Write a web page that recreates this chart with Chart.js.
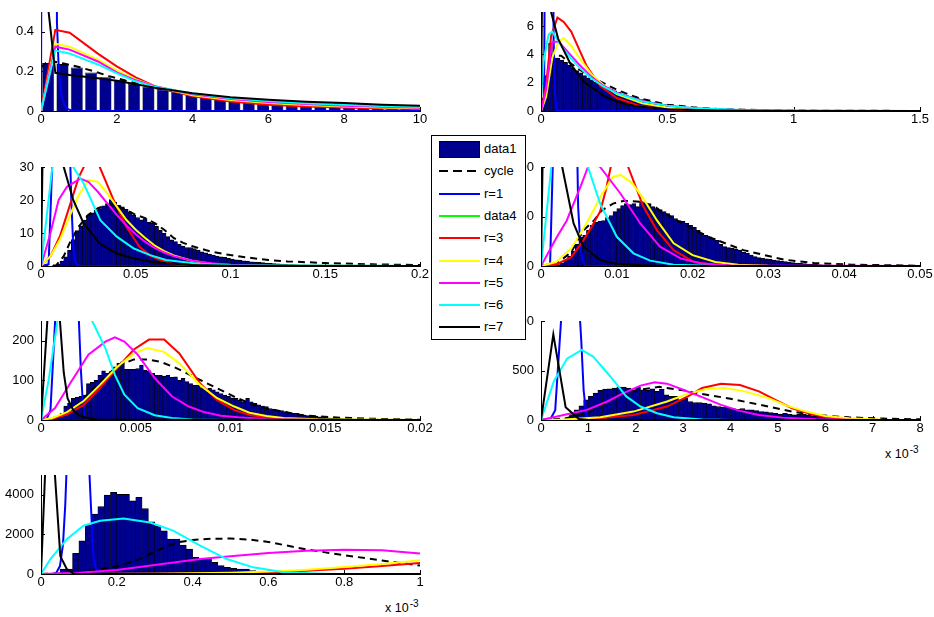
<!DOCTYPE html>
<html>
<head>
<meta charset="utf-8">
<script src="https://cdn.jsdelivr.net/npm/chart.js@4.4.1/dist/chart.umd.min.js"></script>
<style>
  html, body { margin: 0; padding: 0; background: #fff; }
  #stage { position: relative; width: 934px; height: 617px; overflow: hidden; background: #fff;
           font-family: "Liberation Sans", Arial, Helvetica, sans-serif; }
  #legend { position: absolute; left: 431px; top: 135px; width: 95px; height: 205px; box-sizing: border-box;
            border: 1px solid #000; background: #fff; z-index: 10; }
  .row { position: absolute; left: 0; height: 0; }
  .sw { position: absolute; }
  .lbl { position: absolute; left: 52px; font-size: 13px; line-height: 16px; top: -8px; color: #000; white-space: nowrap; }
  .expo { position: absolute; font-size: 12.5px; color: #000; white-space: nowrap; z-index: 5; line-height: 14px; }
  .expo sup { font-size: 10px; position: relative; top: -5px; vertical-align: baseline; line-height: 0; margin-left: 1px; }
</style>
</head>
<body>
<div id="stage"></div>
<script>
// ---------- histogram counts (bin heights) and bin widths ----------
const p1BinWidth = 0.378;
const p1Counts = [0.242,0.237,0.220,0.195,0.171,0.158,0.137,0.124,0.110,0.098,0.088,0.080,0.073,0.066,0.061,0.056,0.051,0.047,0.043,0.040,0.037,0.034,0.031,0.029,0.027,0.025,0.023];

const p2BinWidth = 0.015;
const p2Counts = [0.9,2.5,4.8,3.7,3.75,3.6,3.45,3.25,3.05,2.85,
  2.7,2.5,2.35,2.2,2.05,1.9,1.78,1.65,1.55,1.43,
  1.32,1.2,1.12,1.02,0.95,0.87,0.8,0.73,0.67,0.62,
  0.56,0.52,0.47,0.43,0.4,0.36,0.33,0.3,0.27,0.25,
  0.23,0.21,0.19,0.17,0.16,0.14,0.13,0.12,0.11,0.1,
  0.09,0.08,0.075,0.07,0.06,0.055,0.05,0.045,0.04,0.037,
  0.034,0.03,0.028,0.025,0.023,0.021,0.019,0.017,0.015,0.014];

const p3BinWidth = 0.002;
const p3Counts = [0,0,0,0.1,0.5,1.5,2.8,4.8,8,10.7,
  12.2,13.9,15.4,16.1,16.9,17.4,18.2,18.9,20.1,19.4,
  18.4,17.9,17.2,16.4,15.4,14.7,14.0,14.4,13.2,12.9,
  12.0,10.9,9.9,8.9,7.9,7.4,6.6,6.0,5.6,5.6,
  5.3,4.8,4.3,4.0,3.6,3.3,3.0,2.8,2.6,2.3,
  2.1,1.9,1.8,1.6,1.5,1.3,1.2,1.1,1.0,0.9,
  0.8,0.7,0.65,0.6,0.5,0.45,0.4,0.35,0.3,0.3,
  0.25,0.2,0.2,0.18,0.15,0.13,0.12,0.1,0.1,0.08];

const p4BinWidth = 0.0005;
const p4Counts = [0,0,0,0.5,1.5,3,6,10,15,22,
  29,31,36,41,44,45,46,49,51,55,
  58,61,63,62,63,60,65,64,63,60,
  58,57,55,53,51,48,46,45,43,41,
  39,36,33,31,29.5,28,26,22,19.5,18.5,
  17.8,17,16,14,12.8,11,9.4,8.5,7.7,7.2,
  6.7,6,5.4,5,4.4,4,3.4,3,2.7,2.4,
  2,1.8,1.6,1.5,1.3,1.2,1,0.9,0.8,0.7,
  0.6,0.55,0.5,0.45,0.4,0.35,0.3,0.3,0.25,0.2,
  0.2,0.15,0.15,0.1,0.1,0.1,0.1,0.05,0.05,0.05];

const p5BinWidth = 0.0002;
const p5Counts = [0,0,0,2,8,17,35,42,55,57,
  60,63,92,95,100,113,124,118,122,134,
  143,147,128,128,128,130,139,126,124,118,
  113,113,111,113,108,109,101,105,97,92,
  88,88,82,77,80,76,71,67,63,60,
  56,55,50,46,55,46,42,38,35,34,
  29,27,25,24,21,18.5,17,17,15,12.6,
  11,10,9,8,7,5.5,5,4.5,4,3.5,
  3,2.5,2.2,2,1.8,1.5,1.3,1.2,1,0.9,
  0.8,0.7,0.6,0.5,0.5,0.4,0.4,0.3,0.3,0.3];

// panels 6 and 7: x in units of 1e-3
const p6BinWidth = 0.1;
const p6Counts = [0,0,0,2,8,20,55,102,143,204,
  238,272,299,313,316,323,333,333,323,306,
  333,306,299,316,289,313,255,238,238,204,
  221,187,177,177,170,163,143,136,129,129,
  119,109,116,102,102,95,85,82,75,68,
  61,68,58,51,61,58,51,41,41,34,
  34,30,26,22,19,15,13,11,9,7,
  6,5,5,4,4,3,3,2,2,2];

const p7BinWidth = 1 / 60;
const p7Counts = [0,0,30,250,250,1040,1680,2470,3025,3410,
  3980,4120,4030,4030,3700,3870,3310,2640,2440,2180,
  1760,1760,1460,1260,840,756,756,590,420,336,
  286,252,252,168,118,80,60,40,30,20,
  15,10,10,5,5,5,0,0,0,0];

// ---------- fitted curves, [x, y] pairs ----------
const data4Curve = [];

const p1Cycle = [[0,0.22],[0.2,0.255],[0.6,0.24],[1,0.222],[1.4,0.2],[1.8,0.176],[2.2,0.155],[2.6,0.135],[3,0.116],[4,0.084],[5,0.064],[6,0.05],[7,0.04],[8,0.032],[9,0.026],[10,0.021]];
const p1R1 = [[0,0],[0.378,30],[0.42,0.45],[0.46,0.25],[0.5,0.14],[0.55,0.07],[0.62,0.03],[0.7,0.01],[0.8,0.003],[1,0],[10,0]];
const p1R3 = [[0,0],[0.378,0.41],[0.756,0.395],[1.5,0.29],[2,0.225],[2.5,0.17],[3,0.125],[4,0.075],[5,0.048],[6,0.032],[7,0.023],[8,0.018],[9,0.013],[10,0.01]];
const p1R4 = [[0,0],[0.378,0.34],[0.756,0.325],[1.5,0.26],[2,0.205],[2.5,0.16],[3,0.125],[4,0.08],[5,0.055],[6,0.04],[7,0.03],[8,0.023],[9,0.018],[10,0.014]];
const p1R5 = [[0,0],[0.378,0.325],[0.756,0.31],[1.5,0.25],[2,0.195],[2.5,0.155],[3,0.125],[4,0.085],[5,0.06],[6,0.045],[7,0.035],[8,0.027],[9,0.021],[10,0.017]];
const p1R6 = [[0,0],[0.378,0.305],[0.756,0.29],[1.5,0.235],[2,0.19],[2.5,0.15],[3,0.122],[4,0.088],[5,0.065],[6,0.05],[7,0.039],[8,0.031],[9,0.025],[10,0.02]];
const p1R7 = [[0,0.85],[0.378,0.193],[0.756,0.182],[1.5,0.165],[2,0.153],[2.5,0.135],[3,0.118],[4,0.09],[5,0.07],[6,0.057],[7,0.047],[8,0.04],[9,0.032],[10,0.026]];

const p2Cycle = [[0,0],[0.02,1.5],[0.04,3],[0.06,3.9],[0.08,3.9],[0.1,3.6],[0.15,2.95],[0.2,2.42],[0.25,1.95],[0.3,1.5],[0.35,1.15],[0.4,0.85],[0.5,0.45],[0.6,0.26],[0.7,0.15],[0.8,0.09],[0.9,0.06],[1.0,0.035],[1.2,0.015],[1.5,0.005]];
const p2R1 = [[0,0],[0.012,0.5],[0.018,20],[0.045,20],[0.05,5],[0.055,1.5],[0.06,0.3],[0.065,0],[1.5,0]];
const p2R3 = [[0,0],[0.02,1.8],[0.04,5.3],[0.065,6.6],[0.09,6.3],[0.12,5.6],[0.155,4.2],[0.18,3.2],[0.235,1.76],[0.3,0.92],[0.39,0.36],[0.5,0.12],[0.6,0.03],[0.8,0],[1.5,0]];
const p2R4 = [[0,0],[0.02,1.0],[0.045,3.8],[0.07,4.9],[0.09,5.15],[0.12,4.6],[0.15,3.8],[0.2,2.6],[0.25,1.8],[0.3,1.2],[0.4,0.55],[0.5,0.25],[0.6,0.12],[0.8,0.03],[1.0,0.01],[1.5,0]];
const p2R5 = [[0,0],[0.02,1.5],[0.045,4.9],[0.07,4.9],[0.1,4.3],[0.15,3.3],[0.2,2.4],[0.25,1.75],[0.3,1.3],[0.4,0.7],[0.5,0.38],[0.6,0.2],[0.8,0.06],[1.0,0.02],[1.5,0]];
const p2R6 = [[0,0.9],[0.01,3.5],[0.03,5.4],[0.045,5.6],[0.07,4.9],[0.1,4.1],[0.15,3.1],[0.2,2.3],[0.25,1.7],[0.3,1.25],[0.4,0.68],[0.5,0.38],[0.6,0.21],[0.8,0.07],[1.0,0.025],[1.5,0.003]];
const p2R7 = [[0,0],[0.005,10],[0.02,9],[0.04,7],[0.068,5.1],[0.12,3.2],[0.174,2.0],[0.25,1.05],[0.3,0.67],[0.37,0.36],[0.5,0.12],[0.7,0.03],[1.0,0.005],[1.5,0]];

const p3Cycle = [[0,0],[0.008,0.2],[0.012,3],[0.016,8],[0.02,12],[0.025,15.5],[0.03,17.5],[0.035,18.5],[0.04,18.3],[0.045,17],[0.05,15.5],[0.055,14.5],[0.06,13],[0.065,11],[0.07,8.5],[0.075,7],[0.08,6],[0.09,4.3],[0.1,3.3],[0.11,2.5],[0.12,1.8],[0.13,1.4],[0.15,0.9],[0.175,0.5],[0.2,0.3]];
const p3R1 = [[0,0],[0.004,0.5],[0.0065,40],[0.015,40],[0.016,20],[0.017,6],[0.018,1.5],[0.019,0.3],[0.021,0],[0.2,0]];
const p3R3 = [[0,0],[0.005,3],[0.01,9],[0.015,18],[0.02,27],[0.026,34],[0.031,30],[0.038,20.4],[0.045,11.9],[0.052,5.8],[0.058,3],[0.063,1.8],[0.07,0.6],[0.08,0.1],[0.1,0],[0.2,0]];
const p3R4 = [[0,0],[0.005,3],[0.01,8],[0.015,15],[0.02,21.5],[0.025,26],[0.03,25.5],[0.035,22],[0.04,18],[0.045,14],[0.05,11],[0.055,8.5],[0.06,6.2],[0.065,4.5],[0.07,3.2],[0.08,1.5],[0.09,0.7],[0.1,0.3],[0.12,0.05],[0.2,0]];
const p3R5 = [[0,0],[0.005,10],[0.0093,20],[0.0137,24],[0.0207,26.5],[0.025,25.5],[0.03,22.5],[0.035,19],[0.04,15.5],[0.045,12.3],[0.05,9.6],[0.055,7.3],[0.06,5.5],[0.065,4.1],[0.07,3.0],[0.08,1.6],[0.09,0.8],[0.1,0.4],[0.12,0.1],[0.2,0]];
const p3R6 = [[0,0],[0.006,30],[0.009,40],[0.013,38],[0.017,30],[0.0225,25],[0.0313,13.9],[0.04,8.9],[0.049,5.3],[0.0576,3.3],[0.066,1.8],[0.084,0.6],[0.1,0.2],[0.2,0]];
const p3R7 = [[0,0],[0.0015,60],[0.008,45],[0.012,30],[0.017,20],[0.0225,12.9],[0.031,6.8],[0.04,3.8],[0.049,2.3],[0.058,1.3],[0.066,0.8],[0.08,0.3],[0.1,0.1],[0.2,0]];

const p4Cycle = [[0,0],[0.002,2],[0.004,14],[0.0056,36],[0.007,46],[0.008,56],[0.0095,63],[0.011,66],[0.013,65],[0.015,60],[0.0157,56],[0.0184,44],[0.0219,30],[0.0267,16],[0.032,6.5],[0.036,3],[0.041,1.3],[0.05,0.3]];
const p4R1 = [[0,0],[0.0012,2],[0.0019,200],[0.0046,200],[0.0049,60],[0.0052,20],[0.0055,5],[0.0058,0],[0.05,0]];
const p4R3 = [[0,0],[0.002,1.5],[0.004,9],[0.0056,26],[0.0067,40],[0.0078,55],[0.0086,78],[0.0092,100],[0.0103,118],[0.0115,100],[0.0135,60],[0.0153,36],[0.0175,16],[0.0201,4.4],[0.0228,1],[0.026,0.2],[0.05,0]];
const p4R4 = [[0,0],[0.002,4],[0.004,18],[0.006,43],[0.008,72],[0.0095,90],[0.0105,92],[0.012,84],[0.0135,68],[0.0153,46],[0.0175,23],[0.02,11],[0.023,4],[0.026,1.2],[0.03,0.2],[0.05,0]];
const p4R5 = [[0,0],[0.002,28],[0.0034,46],[0.0052,80],[0.0062,100],[0.007,104],[0.0078,100],[0.0105,73],[0.0131,43],[0.0157,19.5],[0.0184,7.7],[0.021,2.7],[0.025,0.6],[0.05,0]];
const p4R6 = [[0,0],[0.0015,110],[0.004,150],[0.0062,100],[0.0078,63],[0.01,29.5],[0.0122,12.8],[0.0144,5.4],[0.0175,1.3],[0.022,0.2],[0.05,0]];
const p4R7 = [[0,0],[0.0006,300],[0.0028,100],[0.0043,43],[0.0056,19.5],[0.0078,6],[0.01,2],[0.015,0.3],[0.05,0]];

const p5Cycle = [[0,0],[0.001,8],[0.002,42],[0.003,92],[0.004,135],[0.0049,153],[0.0056,153],[0.0063,147],[0.007,134],[0.0077,118],[0.0084,101],[0.0093,80],[0.0102,59],[0.011,42],[0.0119,29],[0.0128,21],[0.0137,12.6],[0.0154,6.7],[0.0172,3.4],[0.02,0.8]];
const p5R1 = [[0,0],[0.0003,2],[0.0005,25],[0.0008,300],[0.00195,300],[0.002,250],[0.0021,130],[0.0022,50],[0.0023,12],[0.0024,2],[0.0026,0],[0.02,0]];
const p5R3 = [[0,0],[0.0006,3],[0.00137,14],[0.00225,38],[0.0031,80],[0.004,130],[0.0049,178],[0.0057,203],[0.0065,203],[0.0073,168],[0.0084,92],[0.0093,50],[0.0102,25],[0.011,12.6],[0.0119,6],[0.0128,2.5],[0.0146,0.3],[0.02,0]];
const p5R4 = [[0,0],[0.0006,5],[0.00137,20],[0.00225,48],[0.0031,88],[0.004,133],[0.0049,168],[0.0056,182],[0.0065,172],[0.0073,143],[0.0084,88],[0.0093,55],[0.0102,34],[0.011,18.5],[0.0119,10],[0.0128,5],[0.0146,1.7],[0.02,0]];
const p5R5 = [[0,0],[0.00074,30],[0.0016,97],[0.0025,165],[0.0034,198],[0.0039,209],[0.0044,198],[0.0051,165],[0.006,106],[0.0069,60],[0.0078,34],[0.0086,20],[0.0095,11],[0.0104,6.7],[0.012,2],[0.015,0.3],[0.02,0]];
const p5R6 = [[0,0],[0.0004,100],[0.0009,260],[0.0015,340],[0.0027,250],[0.0034,181],[0.0039,114],[0.0044,64],[0.0051,30],[0.006,12],[0.0069,5],[0.008,1.5],[0.01,0.3],[0.02,0]];
const p5R7 = [[0,0],[0.0004,300],[0.0008,350],[0.001,250],[0.0012,120],[0.0014,55],[0.0017,25],[0.002,12],[0.0025,4],[0.003,1],[0.02,0]];

const p6Cycle = [[0,0],[0.5,15],[1.0,80],[1.3,150],[1.6,238],[2.0,300],[2.5,335],[3.0,300],[3.5,255],[4.0,215],[4.8,136],[5.3,85],[5.8,51],[6.5,27],[7.2,14],[8.0,7]];
const p6R1 = [[0,0],[0.2,10],[0.3,100],[0.45,1200],[0.8,1200],[0.85,800],[0.9,300],[0.95,80],[1.0,15],[1.1,0],[8,0]];
const p6R3 = [[0,0],[0.5,3],[1.25,17],[1.95,51],[2.66,136],[3.1,238],[3.4,323],[3.8,367],[4.2,354],[4.6,289],[5.0,190],[5.3,119],[5.7,61],[6.0,27],[6.5,10],[7.2,0],[8,0]];
const p6R4 = [[0,0],[0.5,5],[1.25,27],[1.95,85],[2.66,187],[3.1,265],[3.5,313],[3.9,323],[4.3,289],[4.8,221],[5.2,143],[5.6,85],[6.0,41],[6.5,17],[7.2,3],[8,0]];
const p6R5 = [[0,0],[0.55,58],[0.97,102],[1.4,187],[1.74,272],[2.1,347],[2.4,381],[2.66,367],[3.0,306],[3.4,231],[3.8,153],[4.2,92],[4.6,51],[5.1,24],[5.8,7],[6.8,0],[8,0]];
const p6R6 = [[0,0],[0.27,390],[0.55,620],[0.86,708],[1.1,640],[1.46,442],[1.8,238],[2.1,136],[2.45,68],[2.8,27],[3.4,5],[4.0,0],[8,0]];
const p6R7 = [[0,0],[0.26,865],[0.52,130],[0.8,10],[1.0,0],[8,0]];

const p7Cycle = [[0,0],[0.1,50],[0.2,380],[0.26,750],[0.314,1250],[0.36,1600],[0.4,1720],[0.45,1780],[0.5,1790],[0.55,1740],[0.6,1620],[0.7,1240],[0.8,950],[0.9,680],[1.0,430]];
const p7R1 = [[0,0],[0.03,0],[0.04,50],[0.05,400],[0.058,1500],[0.064,3500],[0.068,5500],[0.07,6500],[0.125,6500],[0.128,5000],[0.134,2500],[0.139,756],[0.147,168],[0.155,20],[0.17,0],[1,0]];
const p7R3 = [[0,0],[0.3,10],[0.5,40],[0.6,80],[0.7,160],[0.8,260],[0.9,400],[1.0,555]];
const p7R4 = [[0,0],[0.3,15],[0.5,60],[0.6,120],[0.7,220],[0.8,350],[0.9,510],[1.0,700]];
const p7R5 = [[0,0],[0.1,60],[0.2,200],[0.3,450],[0.42,756],[0.5,900],[0.6,1060],[0.7,1180],[0.8,1230],[0.9,1200],[1.0,1040]];
const p7R6 = [[0,0],[0.025,756],[0.068,1760],[0.112,2440],[0.156,2690],[0.218,2800],[0.288,2600],[0.35,2180],[0.42,1430],[0.49,756],[0.56,336],[0.64,84],[0.77,0],[1,0]];
const p7R7 = [[0,0],[0.017,8000],[0.034,5800],[0.051,900],[0.068,250],[0.085,30],[0.1,0],[1,0]];

// ---------- axis limits and tick labels ----------
const p1XTicks = [0,2,4,6,8,10],            p1XLabels = ['0','2','4','6','8','10'];
const p1YTicks = [0,0.2,0.4],               p1YLabels = ['0','0.2','0.4'];
const p2XTicks = [0,0.5,1,1.5],             p2XLabels = ['0','0.5','1','1.5'];
const p2YTicks = [0,2,4,6],                 p2YLabels = ['0','2','4','6'];
const p3XTicks = [0,0.05,0.1,0.15,0.2],     p3XLabels = ['0','0.05','0.1','0.15','0.2'];
const p3YTicks = [0,10,20,30],              p3YLabels = ['0','10','20','30'];
const p4XTicks = [0,0.01,0.02,0.03,0.04,0.05], p4XLabels = ['0','0.01','0.02','0.03','0.04','0.05'];
const p4YTicks = [0,50,100],                p4YLabels = ['0','50','100'];
const p5XTicks = [0,0.005,0.01,0.015,0.02], p5XLabels = ['0','0.005','0.01','0.015','0.02'];
const p5YTicks = [0,100,200],               p5YLabels = ['0','100','200'];
const p6XTicks = [0,1,2,3,4,5,6,7,8],       p6XLabels = ['0','1','2','3','4','5','6','7','8'];
const p6YTicks = [0,500,1000],              p6YLabels = ['0','500','1000'];
const p7XTicks = [0,0.2,0.4,0.6,0.8,1],     p7XLabels = ['0','0.2','0.4','0.6','0.8','1'];
const p7YTicks = [0,2000,4000],             p7YLabels = ['0','2000','4000'];

const PANELS = [
  { counts: p1Counts, binWidth: p1BinWidth, xMax: 10,   yMax: 0.5,  xTicks: p1XTicks, xLabels: p1XLabels, yTicks: p1YTicks, yLabels: p1YLabels,
    curves: { cycle: p1Cycle, r1: p1R1, data4: data4Curve, r3: p1R3, r4: p1R4, r5: p1R5, r6: p1R6, r7: p1R7 } },
  { counts: p2Counts, binWidth: p2BinWidth, xMax: 1.5,  yMax: 7,    xTicks: p2XTicks, xLabels: p2XLabels, yTicks: p2YTicks, yLabels: p2YLabels,
    curves: { cycle: p2Cycle, r1: p2R1, data4: data4Curve, r3: p2R3, r4: p2R4, r5: p2R5, r6: p2R6, r7: p2R7 } },
  { counts: p3Counts, binWidth: p3BinWidth, xMax: 0.2,  yMax: 30,   xTicks: p3XTicks, xLabels: p3XLabels, yTicks: p3YTicks, yLabels: p3YLabels,
    curves: { cycle: p3Cycle, r1: p3R1, data4: data4Curve, r3: p3R3, r4: p3R4, r5: p3R5, r6: p3R6, r7: p3R7 } },
  { counts: p4Counts, binWidth: p4BinWidth, xMax: 0.05, yMax: 100,  xTicks: p4XTicks, xLabels: p4XLabels, yTicks: p4YTicks, yLabels: p4YLabels,
    curves: { cycle: p4Cycle, r1: p4R1, data4: data4Curve, r3: p4R3, r4: p4R4, r5: p4R5, r6: p4R6, r7: p4R7 } },
  { counts: p5Counts, binWidth: p5BinWidth, xMax: 0.02, yMax: 250,  xTicks: p5XTicks, xLabels: p5XLabels, yTicks: p5YTicks, yLabels: p5YLabels,
    curves: { cycle: p5Cycle, r1: p5R1, data4: data4Curve, r3: p5R3, r4: p5R4, r5: p5R5, r6: p5R6, r7: p5R7 } },
  { counts: p6Counts, binWidth: p6BinWidth, xMax: 8,    yMax: 1000, xTicks: p6XTicks, xLabels: p6XLabels, yTicks: p6YTicks, yLabels: p6YLabels,
    curves: { cycle: p6Cycle, r1: p6R1, data4: data4Curve, r3: p6R3, r4: p6R4, r5: p6R5, r6: p6R6, r7: p6R7 } },
  { counts: p7Counts, binWidth: p7BinWidth, xMax: 1,    yMax: 5000, xTicks: p7XTicks, xLabels: p7XLabels, yTicks: p7YTicks, yLabels: p7YLabels,
    curves: { cycle: p7Cycle, r1: p7R1, data4: data4Curve, r3: p7R3, r4: p7R4, r5: p7R5, r6: p7R6, r7: p7R7 } }
];

// ---------- styling and layout ----------
const FONT = '"Liberation Sans", Arial, Helvetica, sans-serif';
const BAR_FILL = '#00008F';
const SERIES = [
  { key: 'cycle', label: 'cycle', color: '#000000', dash: [7, 5] },
  { key: 'r1',    label: 'r=1',   color: '#0000FF' },
  { key: 'data4', label: 'data4', color: '#00FF00' },
  { key: 'r3',    label: 'r=3',   color: '#FF0000' },
  { key: 'r4',    label: 'r=4',   color: '#FFFF00' },
  { key: 'r5',    label: 'r=5',   color: '#FF00FF' },
  { key: 'r6',    label: 'r=6',   color: '#00FFFF' },
  { key: 'r7',    label: 'r=7',   color: '#000000' }
];
// plot-area top-left corners; every plot area is AREA_W x AREA_H
const PANEL_POS = [
  { left: 41,  top: 12 },  { left: 541, top: 12 },
  { left: 41,  top: 167 }, { left: 541, top: 167 },
  { left: 41,  top: 321 }, { left: 541, top: 321 },
  { left: 41,  top: 475 }
];
const BAR_FRACTION = [0.84, 1, 1, 1, 1, 1, 1];
const AREA_W = 379, AREA_H = 99;
const PAD_L = 40, PAD_T = 8, PAD_R = 16, PAD_B = 22;

// short tick marks pointing into the plot area
const inwardTicks = {
  id: 'inwardTicks',
  beforeDatasetsDraw(chart) {
    const { ctx, chartArea: a, scales: { x, y } } = chart;
    ctx.save();
    ctx.strokeStyle = '#000';
    ctx.lineWidth = 1;
    ctx.beginPath();
    x.ticks.forEach(t => {
      const px = Math.round(x.getPixelForValue(t.value)) + 0.5;
      ctx.moveTo(px, a.bottom); ctx.lineTo(px, a.bottom - 4);
    });
    y.ticks.forEach(t => {
      const py = Math.round(y.getPixelForValue(t.value)) + 0.5;
      ctx.moveTo(a.left, py); ctx.lineTo(a.left + 4, py);
    });
    ctx.stroke();
    ctx.restore();
  }
};

const stage = document.getElementById('stage');

PANELS.forEach((p, k) => {
  const pos = PANEL_POS[k];
  const w = PAD_L + AREA_W + PAD_R, h = PAD_T + AREA_H + PAD_B;
  const cv = document.createElement('canvas');
  cv.width = w; cv.height = h;
  cv.style.cssText = `position:absolute;left:${pos.left - PAD_L}px;top:${pos.top - PAD_T}px;width:${w}px;height:${h}px;`;
  stage.appendChild(cv);

  const bars = p.counts.map((c, i) => ({ x: (i + 0.5) * p.binWidth, y: c }));
  const datasets = [{
    type: 'bar', label: 'data1', data: bars, order: 100,
    backgroundColor: BAR_FILL, borderColor: '#000',
    borderWidth: { top: 1, left: 0.5, right: 0.5, bottom: 0 },
    barPercentage: BAR_FRACTION[k], categoryPercentage: 1, grouped: false
  }];
  SERIES.forEach((s, j) => {
    datasets.push({
      type: 'line', label: s.label, order: SERIES.length - j,
      data: p.curves[s.key].map(([x, y]) => ({ x, y })),
      borderColor: s.color, borderWidth: 2, borderDash: s.dash || [],
      pointRadius: 0, tension: 0, fill: false
    });
  });

  const tickFont = { family: FONT, size: 13 };
  new Chart(cv, {
    type: 'bar',
    data: { datasets },
    options: {
      responsive: false, animation: false, devicePixelRatio: 1,
      layout: { padding: { left: 0, top: PAD_T, right: PAD_R, bottom: 0 } },
      plugins: { legend: { display: false }, tooltip: { enabled: false } },
      scales: {
        x: {
          type: 'linear', min: 0, max: p.xMax, offset: false,
          grid: { display: false, drawTicks: false, offset: false },
          border: { display: true, color: '#000', width: 1 },
          ticks: { padding: 1, color: '#000', font: tickFont, maxRotation: 0, autoSkip: false,
                   callback: (v, i) => p.xLabels[i] },
          afterBuildTicks: s => { s.ticks = p.xTicks.map(v => ({ value: v })); },
          afterFit: s => { s.height = PAD_B; s.paddingLeft = 0; s.paddingRight = 0; }
        },
        y: {
          type: 'linear', min: 0, max: p.yMax,
          grid: { display: false, drawTicks: false },
          border: { display: true, color: '#000', width: 1 },
          ticks: { padding: 7, color: '#000', font: tickFont, autoSkip: false,
                   callback: (v, i) => p.yLabels[i] },
          afterBuildTicks: s => { s.ticks = p.yTicks.map(v => ({ value: v })); },
          afterFit: s => { s.width = PAD_L; s.paddingTop = 0; s.paddingBottom = 0; }
        }
      }
    },
    plugins: [inwardTicks]
  });
});

// exponent labels under the two axes measured in 1e-3
[{ left: 885, top: 447 }, { left: 385, top: 601 }].forEach(pos => {
  const d = document.createElement('div');
  d.className = 'expo';
  d.style.left = pos.left + 'px';
  d.style.top = pos.top + 'px';
  d.innerHTML = 'x 10<sup>-3</sup>';
  stage.appendChild(d);
});

// legend
const legend = document.createElement('div');
legend.id = 'legend';
stage.appendChild(legend);
const LEGEND_ROWS = [{ label: 'data1', patch: true }].concat(SERIES.map(s => ({ label: s.label, color: s.color, dash: s.dash })));
LEGEND_ROWS.forEach((r, i) => {
  const row = document.createElement('div');
  row.className = 'row';
  row.style.top = (13 + 22.3 * i) + 'px';
  let sw;
  if (r.patch) {
    sw = `<div class="sw" style="left:7px;top:-8px;width:41px;height:17px;box-sizing:border-box;background:${BAR_FILL};border:1px solid #000;"></div>`;
  } else if (r.dash) {
    sw = `<svg class="sw" style="left:7px;top:-2px" width="41" height="4"><line x1="0" y1="2" x2="41" y2="2" stroke="${r.color}" stroke-width="2.2" stroke-dasharray="9,5"/></svg>`;
  } else {
    sw = `<svg class="sw" style="left:7px;top:-2px" width="41" height="4"><line x1="0" y1="2" x2="41" y2="2" stroke="${r.color}" stroke-width="2.2"/></svg>`;
  }
  row.innerHTML = sw + `<span class="lbl">${r.label}</span>`;
  legend.appendChild(row);
});
</script>
</body>
</html>
